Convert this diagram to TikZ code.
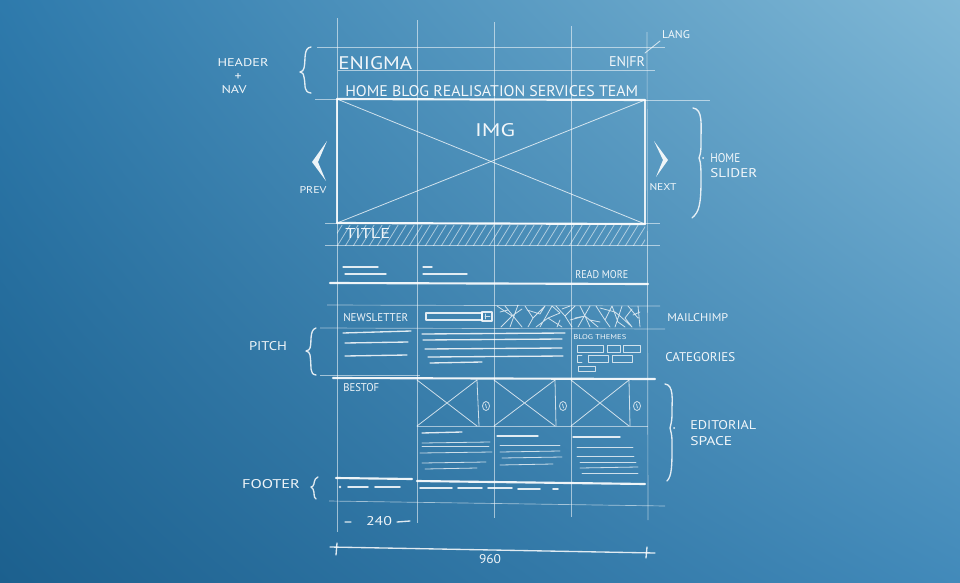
\documentclass[tikz,border=0pt]{standalone}
\usepackage{fontspec}
\setmainfont{PT Sans}
\usepackage{graphicx}
\usetikzlibrary{shadings}
\newlength\pxu \setlength\pxu{0.75pt}
\newcommand\tx[3]{\resizebox{#1\pxu}{#2\pxu}{#3}}
\definecolor{bgTL}{RGB}{46,122,172}
\definecolor{bgTR}{RGB}{128,184,214}
\definecolor{bgBL}{RGB}{28,96,142}
\definecolor{bgBR}{RGB}{66,138,186}
\begin{document}
\begin{tikzpicture}[x=0.75pt,y=-0.75pt,
  grid/.style={draw=white,opacity=0.55,line width=0.5pt},
  thinl/.style={draw=white,opacity=0.75,line width=0.6pt,line cap=round,line join=round},
  med/.style={draw=white,opacity=0.85,line width=1pt,line cap=round,line join=round},
  bold/.style={draw=white,opacity=0.92,line width=1.6pt,line cap=round},
  lbl/.style={text=white,opacity=0.92,inner sep=0pt},
  chev/.style={fill=white,opacity=0.9},
]
\useasboundingbox (0,0) rectangle (960,582);
\shade[upper left=bgTL, upper right=bgTR, lower left=bgBL, lower right=bgBR] (0,0) rectangle (960,582);

% vertical grid
\draw[grid] (337,18) -- (337,532);
\draw[grid] (417,20) -- (417,523);
\draw[grid] (494,22) -- (494,518);
\draw[grid] (571,26) -- (571,517);
\draw[grid] (647,32) -- (648,520);

% header lines
\draw[grid] (317,47) -- (665,47);
\draw[grid] (338,70) -- (655,70);
\draw[grid] (315,99) -- (337,99);
\draw[grid] (645,100) -- (710,100);
\draw[thinl] (645,53) -- (660,41);

% slider image
\draw[med] (337,99) -- (337,223);
\draw[med] (645,100) -- (645,224);
\draw[bold] (337,99) -- (645,100);
\draw[bold] (337,223) -- (645,224);
\draw[thinl] (337,99) -- (645,224);
\draw[thinl] (337,223) -- (645,100);
\draw[grid] (325,223) -- (660,223);
\begin{scope}
  \clip (337,225) rectangle (645,245);
  \foreach \i in {0,...,40} \draw[thinl,opacity=0.55] (328+\i*8,248) -- (344+\i*8,222);
\end{scope}
\draw[grid] (325,245) -- (660,245);

% chevrons
\fill[chev] (327,141) -- (312,162) -- (326,181) -- (318,162) -- cycle;
\fill[chev] (654,141) -- (668,160) -- (656,177) -- (663,160) -- cycle;

% read more row
\draw[med] (343,267) -- (378,267);
\draw[med] (345,274) -- (386,274);
\draw[med] (423,267) -- (432,267);
\draw[med] (423,274) -- (467,274);
\draw[bold] (330,283) -- (648,284);
\draw[grid] (327,305) -- (660,306);
\draw[grid] (320,328) -- (665,329);

% newsletter
\draw[med] (426,313) rectangle (482,320);
\draw[med] (482,312) rectangle (492,321);
\draw[thinl] (485,314) -- (485,319) (485,316) -- (490,316);
\draw[thinl] (497,306)--(512,316)--(501,327) (505,306)--(522,327) (518,305)--(510,327)
  (525,306)--(533,318)--(528,327) (533,318)--(545,306) (540,327)--(552,306)
  (548,318)--(562,327) (556,306)--(565,316)--(575,306) (565,316)--(572,327)
  (578,327)--(590,306) (585,316)--(598,327) (596,306)--(605,320)--(612,306)
  (605,320)--(610,327) (615,327)--(622,306) (620,316)--(632,327) (628,306)--(638,318)
  (638,306)--(640,327) (585,316)--(570,320) (548,318)--(536,327) (512,316)--(522,309)
  (500,312)--(508,310) (527,310)--(540,314)--(545,306) (552,306)--(560,313)--(548,318)
  (562,309)--(570,306) (575,318)--(585,316) (580,306)--(585,316)--(590,327)
  (600,308)--(615,312)--(620,316) (612,306)--(618,322)--(625,327) (632,309)--(625,318)--(632,327)
  (560,320)--(557,327) (590,320)--(600,322) (633,315)--(640,312);

% pitch
\draw[med] (343,333) -- (411,331);
\draw[med] (345,343) -- (408,342);
\draw[med] (345,356) -- (407,355);
\draw[med] (422,334) -- (565,333);
\draw[med] (423,340) -- (562,339);
\draw[med] (425,349) -- (562,348);
\draw[med] (428,357) -- (563,356);
\draw[med] (430,363) -- (482,362);
\draw[thinl] (577,345) rectangle (603,352);
\draw[thinl] (607,345) rectangle (620,352);
\draw[thinl] (623,345) rectangle (640,352);
\draw[thinl] (582,355) -- (577,355) -- (577,362) -- (582,362);
\draw[thinl] (588,355) rectangle (608,362);
\draw[thinl] (612,355) rectangle (632,362);
\draw[thinl] (578,366) rectangle (595,371);

\draw[grid] (320,375) -- (420,375);
\draw[bold] (333,378) -- (655,379);

% best of
\draw[grid] (417,426) -- (648,426);
\draw[thinl] (417,380) -- (477,426) (417,426) -- (477,380);
\draw[thinl] (494,380) -- (555,426) (494,426) -- (555,380);
\draw[thinl] (571,380) -- (629,426) (571,426) -- (629,380);
\draw[thinl] (477,380) -- (479,426);
\draw[thinl] (555,380) -- (556,426);
\draw[thinl] (629,380) -- (630,426);
\foreach \cx in {486,563,637} {
  \draw[thinl] (\cx,406) ellipse [x radius=3.5, y radius=4.5];
  \draw[thinl] (\cx-0.5,404) -- (\cx+0.5,408);
}

% editorial text lines
\draw[med] (422,433) -- (462,432);
\draw[thinl] (422,443) -- (490,442);
\draw[thinl] (422,446) -- (489,446);
\draw[thinl] (420,453) -- (492,452);
\draw[thinl] (422,463) -- (486,462);
\draw[thinl] (425,469) -- (477,468);
\draw[med] (497,436) -- (538,436);
\draw[thinl] (500,445) -- (560,445);
\draw[thinl] (500,452) -- (560,451);
\draw[thinl] (502,458) -- (562,457);
\draw[thinl] (500,465) -- (553,464);
\draw[med] (573,437) -- (620,437);
\draw[thinl] (577,447) -- (633,447);
\draw[thinl] (577,456) -- (634,456);
\draw[thinl] (580,462) -- (636,462);
\draw[thinl] (580,468) -- (638,467);
\draw[thinl] (582,473) -- (638,473);

% footer
\draw[bold] (336,478) -- (412,479);
\draw[bold] (417,481) -- (645,484);
\fill[white,opacity=0.85] (340,487) circle [radius=1.3];
\draw[med,line width=1.3pt] (348,487) -- (368,487) (375,487) -- (400,487)
  (420,488) -- (452,488) (458,488) -- (482,488) (488,488) -- (512,488)
  (518,489) -- (540,489) (553,489) -- (558,489);
\draw[grid] (329,501) -- (665,506);
\draw[med] (345,522) -- (351,522) (397,522) -- (410,521);
\draw[med] (330,547) -- (655,553);
\draw[med] (337,543) -- (336,555);
\draw[med] (647,547) -- (646,558);

% braces
\draw[med] (311,47) .. controls (303,48) and (306,60) .. (304,68) .. controls (303,71) .. (300,72) .. controls (303,73) .. (304,77) .. controls (306,86) and (303,92) .. (311,93);
\draw[med] (316,328) .. controls (309,330) and (312,343) .. (310,348) .. controls (309,350) .. (306,351) .. controls (309,352) .. (310,355) .. controls (312,368) and (309,374) .. (316,375);
\draw[med] (318,477) .. controls (313,479) and (315,484) .. (313,486) -- (311,487) -- (313,489) .. controls (315,493) and (313,497) .. (316,499);
\draw[med] (693,108) .. controls (703,109) and (701,125) .. (701,140) .. controls (701,152) .. (699,158) .. controls (701,162) and (701,170) .. (701,180) .. controls (701,205) and (699,212) .. (692,218);
\fill[white,opacity=0.85] (703,158) circle [radius=1];
\draw[med] (665,384) .. controls (674,385) and (672,400) .. (672,410) .. controls (672,420) .. (670,428) .. controls (672,436) .. (672,445) .. controls (672,465) and (672,476) .. (667,481);
\fill[white,opacity=0.85] (674,428) circle [radius=1];

% labels
\node[lbl] (header) at (243,63) {\tx{51}{8}{HEADER}};
\node[lbl] (plus) at (238,77) {\tx{7}{7}{+}};
\node[lbl] (nav) at (234,90) {\tx{25}{8}{NAV}};
\node[lbl] (lang) at (676,35) {\tx{28}{8}{LANG}};
\node[lbl] (enfr) at (627,62) {\tx{36}{10}{EN|FR}};
\node[lbl,anchor=west] (enigma) at (338,63) {\tx{74}{13}{ENIGMA}};
\node[lbl,anchor=west] (menu) at (345,91) {\tx{293}{11}{HOME BLOG REALISATION SERVICES TEAM}};
\node[lbl] (img) at (495,130) {\tx{40}{13}{IMG}};
\node[lbl] (prev) at (313,190) {\tx{27}{7}{PREV}};
\node[lbl] (next) at (663,187) {\tx{27}{7}{NEXT}};
\node[lbl,anchor=west] (home) at (710,158) {\tx{30}{9}{HOME}};
\node[lbl,anchor=west] (slider) at (710,173) {\tx{47}{9}{SLIDER}};
\node[lbl,anchor=west] (title) at (345,233) {\tx{45}{10}{TITLE}};
\node[lbl,anchor=west] (readmore) at (575,275) {\tx{53}{8}{READ MORE}};
\node[lbl,anchor=west] (newsletter) at (343,318) {\tx{65}{8}{NEWSLETTER}};
\node[lbl,anchor=west] (mailchimp) at (667,318) {\tx{61}{8}{MAILCHIMP}};
\node[lbl,anchor=west] (themes) at (573,337) {\tx{53}{5}{BLOG THEMES}};
\node[lbl,anchor=west] (categories) at (665,357) {\tx{70}{9}{CATEGORIES}};
\node[lbl] (pitch) at (268,346) {\tx{38}{9}{PITCH}};
\node[lbl,anchor=west] (bestof) at (343,388) {\tx{36}{8}{BESTOF}};
\node[lbl,anchor=west] (editorial) at (690,425) {\tx{66}{9}{EDITORIAL}};
\node[lbl,anchor=west] (space) at (690,441) {\tx{42}{9}{SPACE}};
\node[lbl] (footer) at (271,484) {\tx{58}{9}{FOOTER}};
\node[lbl] (w240) at (379,521) {\tx{26}{9}{240}};
\node[lbl] (w960) at (490,559) {\tx{22}{9}{960}};
\end{tikzpicture}
\end{document}
